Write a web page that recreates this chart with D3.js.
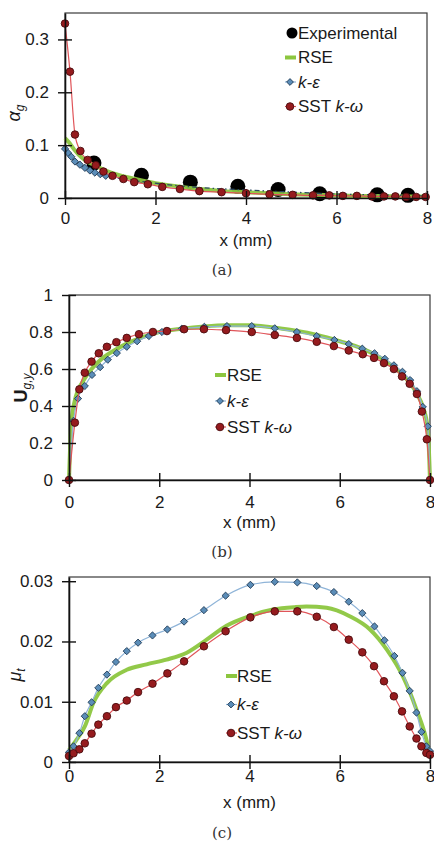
<!DOCTYPE html>
<html>
<head>
<meta charset="utf-8">
<script src="https://cdn.jsdelivr.net/npm/d3@7"></script>
<style>
  html, body { margin: 0; padding: 0; background: #fff; }
  svg { display: block; font-family: "Liberation Sans", Arial, sans-serif; }
</style>
</head>
<body>
<svg id="fig" width="434" height="841"></svg>
<script>
// ---------- shared axis values ----------
const xTickValues = [0, 2, 4, 6, 8];

// ---------- (a) gas volume fraction ----------
const expAX = [0.64, 1.69, 2.77, 3.82, 4.71, 5.63, 6.9, 7.58];
const expAY = [0.066, 0.043, 0.030, 0.022, 0.016, 0.008, 0.006, 0.005];

const rseAX = [0, 0.1, 0.2, 0.3, 0.45, 0.65, 0.9, 1.2, 1.6, 2.0, 2.5, 3.0, 3.5, 4.0, 4.5, 5.0, 5.5, 6.0, 6.5, 7.0, 7.5, 8.0];
const rseAY = [0.113, 0.104, 0.092, 0.082, 0.071, 0.062, 0.052, 0.043, 0.035, 0.028, 0.022, 0.017, 0.013, 0.011, 0.009, 0.007, 0.006, 0.005, 0.004, 0.004, 0.003, 0.003];

const keAX = [0, 0.07, 0.14, 0.22, 0.33, 0.44, 0.55, 0.66, 0.78, 0.9, 1.3, 1.8, 2.3, 2.8, 3.3, 3.8, 4.3, 4.8, 5.3, 5.8, 6.3, 6.8, 7.3, 7.8, 8.0];
const keAY = [0.093, 0.085, 0.078, 0.069, 0.063, 0.057, 0.052, 0.048, 0.045, 0.042, 0.036, 0.030, 0.025, 0.021, 0.018, 0.016, 0.014, 0.012, 0.010, 0.008, 0.007, 0.006, 0.005, 0.004, 0.004];

const sstAX = [0, 0.11, 0.22, 0.34, 0.5, 0.68, 0.85, 1.05, 1.29, 1.53, 1.83, 2.15, 2.54, 2.97, 3.46, 4.0, 4.52, 5.03, 5.48, 5.84, 6.14, 6.45, 6.78, 7.05, 7.3, 7.54, 7.76, 7.97];
const sstAY = [0.33, 0.239, 0.12, 0.089, 0.072, 0.062, 0.05, 0.042, 0.036, 0.030, 0.026, 0.021, 0.017, 0.013, 0.011, 0.009, 0.007, 0.006, 0.005, 0.005, 0.004, 0.004, 0.003, 0.003, 0.003, 0.002, 0.002, 0.002];
const yTicksA = [0, 0.1, 0.2, 0.3];

// ---------- (b) gas axial velocity ----------
const rseBX = [0, 0.05, 0.15, 0.3, 0.5, 0.75, 1.0, 1.3, 1.6, 2.0, 2.5, 3.0, 3.5, 4.0, 4.5, 5.0, 5.5, 6.0, 6.5, 7.0, 7.4, 7.7, 7.85, 7.95, 8.0];
const rseBY = [0, 0.3, 0.45, 0.53, 0.6, 0.66, 0.7, 0.74, 0.77, 0.8, 0.818, 0.83, 0.836, 0.836, 0.826, 0.808, 0.784, 0.75, 0.71, 0.645, 0.565, 0.47, 0.39, 0.28, 0];

const keBX = [0, 0.1, 0.2, 0.35, 0.51, 0.69, 0.86, 1.06, 1.28, 1.51, 1.77, 2.06, 2.5, 3.0, 3.5, 4.05, 4.56, 5.05, 5.49, 5.88, 6.2, 6.5, 6.77, 7.0, 7.2, 7.39, 7.56, 7.71, 7.84, 7.95, 8.0];
const keBY = [0, 0.32, 0.44, 0.508, 0.568, 0.61, 0.65, 0.686, 0.72, 0.75, 0.778, 0.80, 0.818, 0.828, 0.832, 0.832, 0.82, 0.80, 0.778, 0.757, 0.735, 0.71, 0.685, 0.655, 0.62, 0.585, 0.54, 0.48, 0.395, 0.29, 0];

const sstBX = [0, 0.13, 0.23, 0.35, 0.5, 0.66, 0.84, 1.05, 1.28, 1.55, 1.86, 2.17, 2.55, 2.99, 3.48, 4.05, 4.56, 5.05, 5.49, 5.87, 6.2, 6.51, 6.76, 6.98, 7.2, 7.38, 7.55, 7.71, 7.82, 7.93, 8.0];
const sstBY = [0, 0.31, 0.49, 0.58, 0.64, 0.685, 0.72, 0.745, 0.768, 0.788, 0.80, 0.805, 0.815, 0.815, 0.81, 0.80, 0.784, 0.768, 0.747, 0.724, 0.70, 0.68, 0.66, 0.632, 0.60, 0.56, 0.52, 0.465, 0.37, 0.22, 0];
const yTicksB = [0, 0.2, 0.4, 0.6, 0.8, 1];

// ---------- (c) turbulent viscosity ----------
const rseCX = [0, 0.15, 0.35, 0.54, 0.84, 1.28, 1.72, 2.16, 2.6, 3.05, 3.49, 4.0, 4.52, 5.0, 5.26, 5.71, 6.22, 6.67, 7.04, 7.4, 7.7, 7.92, 8.0];
const rseCY = [0.002, 0.0035, 0.0059, 0.0098, 0.0131, 0.0153, 0.0162, 0.017, 0.0181, 0.0203, 0.0226, 0.0242, 0.0253, 0.0257, 0.0258, 0.0256, 0.0242, 0.022, 0.0187, 0.0142, 0.0087, 0.0037, 0.001];

const keCX = [0, 0.1, 0.23, 0.35, 0.5, 0.65, 0.84, 1.04, 1.28, 1.53, 1.85, 2.18, 2.55, 2.99, 3.47, 4.02, 4.56, 5.06, 5.49, 5.87, 6.2, 6.5, 6.77, 6.99, 7.21, 7.39, 7.55, 7.7, 7.81, 7.92, 8.0];
const keCY = [0.0016, 0.0026, 0.0048, 0.0076, 0.0099, 0.0123, 0.0145, 0.0166, 0.0184, 0.0198, 0.021, 0.022, 0.0233, 0.0252, 0.0276, 0.0294, 0.0299, 0.0298, 0.0292, 0.0282, 0.0266, 0.0247, 0.0225, 0.0202, 0.0176, 0.0148, 0.0118, 0.0082, 0.005, 0.0026, 0.0018];

const sstCX = [0, 0.1, 0.23, 0.35, 0.5, 0.65, 0.84, 1.04, 1.28, 1.53, 1.85, 2.18, 2.55, 2.99, 3.47, 4.02, 4.56, 5.06, 5.49, 5.87, 6.2, 6.5, 6.76, 6.98, 7.2, 7.38, 7.55, 7.7, 7.81, 7.92, 8.0];
const sstCY = [0.001, 0.00145, 0.0021, 0.0031, 0.0047, 0.0062, 0.0076, 0.0091, 0.0102, 0.0116, 0.013, 0.0147, 0.0167, 0.0192, 0.0217, 0.024, 0.025, 0.025, 0.0241, 0.0224, 0.0203, 0.0182, 0.0159, 0.0134, 0.0109, 0.0084, 0.0059, 0.0039, 0.0026, 0.0015, 0.0012];
const yTicksC = [0, 0.01, 0.02, 0.03];

// ---------- styles ----------
const C = {
  rse: "#8cc63f",
  keFill: "#5b8db8", keStroke: "#1f3a55", keLine: "#8fb4d8",
  sstFill: "#951b1e", sstStroke: "#4a0b0d", sstLine: "#e0555a",
  exp: "#000000",
  frame: "#3a3a3a"
};
const FONT = 17;

const svg = d3.select("#fig");
const zip = (xs, ys) => xs.map((x, i) => ({ x, y: ys[i] }));
const diamondPath = r => `M0,${-r}L${r},0L0,${r}L${-r},0Z`;
const fmt = d => String(+d.toFixed(3));

function drawPanel(p) {
  const x = d3.scaleLinear().domain([0, 8]).range([p.left, p.right]);
  const y = d3.scaleLinear().domain([0, p.yMax]).range([p.bottom, p.top]);
  const g = svg.append("g");

  // plot-area frame
  g.append("rect")
    .attr("x", p.left).attr("y", p.top)
    .attr("width", p.right - p.left).attr("height", p.bottom - p.top)
    .attr("fill", "none").attr("stroke", C.frame).attr("stroke-width", 1.2);

  const line = d3.line().x(d => x(d.x)).y(d => y(d.y)).curve(d3.curveMonotoneX);

  p.series.forEach(s => {
    const pts = zip(s.xs, s.ys);
    if (s.kind === "exp") {
      g.append("g").selectAll("circle").data(pts).join("circle")
        .attr("cx", d => x(d.x)).attr("cy", d => y(d.y)).attr("r", 7.5)
        .attr("fill", C.exp);
    } else if (s.kind === "rse") {
      g.append("path").datum(pts).attr("d", line)
        .attr("fill", "none").attr("stroke", C.rse).attr("stroke-width", 4)
        .attr("stroke-linejoin", "round").attr("stroke-opacity", 0.95);
    } else if (s.kind === "ke") {
      g.append("path").datum(pts).attr("d", line)
        .attr("fill", "none").attr("stroke", s.dashed ? "#2c4a66" : C.keLine)
        .attr("stroke-width", s.dashed ? 1.3 : 1.2)
        .attr("stroke-dasharray", s.dashed ? "5,3,1.5,3" : null);
      const shown = s.markerMaxX == null ? pts : pts.filter(d => d.x <= s.markerMaxX);
      g.append("g").selectAll("path").data(shown).join("path")
        .attr("transform", d => `translate(${x(d.x)},${y(d.y)})`)
        .attr("d", diamondPath(3.6))
        .attr("fill", C.keFill).attr("stroke", C.keStroke).attr("stroke-width", 0.9);
    } else if (s.kind === "sst") {
      g.append("path").datum(pts).attr("d", line)
        .attr("fill", "none").attr("stroke", C.sstLine).attr("stroke-width", 1.2);
      g.append("g").selectAll("circle").data(pts).join("circle")
        .attr("cx", d => x(d.x)).attr("cy", d => y(d.y)).attr("r", 3.8)
        .attr("fill", C.sstFill).attr("stroke", C.sstStroke).attr("stroke-width", 0.9);
    }
  });

  // y axis with crossing ticks
  const ya = g.append("g").attr("transform", `translate(${p.left},0)`)
    .call(d3.axisLeft(y).tickValues(p.yTicks).tickFormat(fmt).tickSizeInner(7).tickSizeOuter(0).tickPadding(9));
  ya.select(".domain").attr("stroke", "#111").attr("stroke-width", 1.6);
  ya.selectAll(".tick line").attr("x1", -7).attr("x2", 7).attr("stroke", "#111").attr("stroke-width", 1.4);
  ya.selectAll(".tick text").attr("font-size", FONT).attr("fill", "#1a1a1a").attr("font-family", null);

  // x axis with crossing ticks
  const xa = g.append("g").attr("transform", `translate(0,${p.bottom})`)
    .call(d3.axisBottom(x).tickValues(xTickValues).tickFormat(fmt).tickSizeInner(7).tickSizeOuter(0).tickPadding(p.xPad));
  xa.select(".domain").attr("stroke", "#111").attr("stroke-width", 1.6);
  xa.selectAll(".tick line").attr("y1", -7).attr("y2", 7).attr("stroke", "#111").attr("stroke-width", 1.4);
  xa.selectAll(".tick text").attr("font-size", FONT).attr("fill", "#1a1a1a").attr("font-family", null);

  // x title and caption
  g.append("text").attr("x", (p.left + p.right) / 2 + 0).attr("y", p.bottom + p.titleDy)
    .attr("text-anchor", "middle").attr("font-size", FONT).attr("fill", "#1a1a1a").text("x (mm)");
  g.append("text").attr("x", 222).attr("y", p.bottom + p.capDy)
    .attr("text-anchor", "middle").attr("font-size", 15).attr("fill", "#333")
    .attr("font-family", "'DejaVu Serif', 'Liberation Serif', serif").text(p.caption);

  // y title
  const yt = g.append("text")
    .attr("transform", `translate(${p.yTitle[0]},${p.yTitle[1]}) rotate(-90)`)
    .attr("text-anchor", "middle").attr("font-size", 18).attr("fill", "#1a1a1a");
  p.yLabel(yt);

  // legend
  const lg = g.append("g");
  p.legend.rows.forEach((kind, i) => {
    const cy = p.legend.y0 + i * p.legend.dy;
    const mx = p.legend.mx;
    if (kind === "exp") {
      lg.append("circle").attr("cx", mx + 2).attr("cy", cy).attr("r", 5.5).attr("fill", C.exp);
    } else if (kind === "rse") {
      lg.append("line").attr("x1", mx - 5).attr("x2", mx + 6).attr("y1", cy).attr("y2", cy)
        .attr("stroke", C.rse).attr("stroke-width", 4);
    } else if (kind === "ke") {
      lg.append("line").attr("x1", mx - 5).attr("x2", mx + 6).attr("y1", cy).attr("y2", cy)
        .attr("stroke", C.keLine).attr("stroke-width", 1.2);
      lg.append("path").attr("transform", `translate(${mx},${cy})`).attr("d", diamondPath(3.4))
        .attr("fill", C.keFill).attr("stroke", C.keStroke).attr("stroke-width", 0.9);
    } else if (kind === "sst") {
      lg.append("line").attr("x1", mx - 5).attr("x2", mx + 6).attr("y1", cy).attr("y2", cy)
        .attr("stroke", C.sstLine).attr("stroke-width", 1.2);
      lg.append("circle").attr("cx", mx).attr("cy", cy).attr("r", 3.8)
        .attr("fill", C.sstFill).attr("stroke", C.sstStroke).attr("stroke-width", 0.9);
    }
    const t = lg.append("text").attr("x", p.legend.tx).attr("y", cy).attr("dy", "0.35em")
      .attr("font-size", FONT).attr("fill", "#1a1a1a");
    if (kind === "exp") t.text("Experimental");
    if (kind === "rse") t.text("RSE");
    if (kind === "ke") t.append("tspan").attr("font-style", "italic").text("k-ε");
    if (kind === "sst") {
      t.append("tspan").text("SST ");
      t.append("tspan").attr("font-style", "italic").text("k-ω");
    }
  });
}

drawPanel({
  left: 65, right: 427, top: 13, bottom: 198, yMax: 0.35, yTicks: yTicksA,
  xPad: 7, titleDy: 48, capDy: 77, caption: "(a)",
  yTitle: [20, 113],
  yLabel: t => {
    t.append("tspan").attr("font-style", "italic").text("α");
    t.append("tspan").attr("font-style", "italic").attr("font-size", 12).attr("dy", 4).text("g");
  },
  series: [
    { kind: "exp", xs: expAX, ys: expAY },
    { kind: "rse", xs: rseAX, ys: rseAY },
    { kind: "ke", xs: keAX, ys: keAY, dashed: true, markerMaxX: 0.95 },
    { kind: "sst", xs: sstAX, ys: sstAY }
  ],
  legend: { rows: ["exp", "rse", "ke", "sst"], mx: 290, tx: 298, y0: 33, dy: 24.5 }
});

drawPanel({
  left: 69, right: 430, top: 295, bottom: 480, yMax: 1, yTicks: yTicksB,
  xPad: 9, titleDy: 48, capDy: 77, caption: "(b)",
  yTitle: [27, 388],
  yLabel: t => {
    t.append("tspan").attr("font-weight", "bold").text("U");
    t.append("tspan").attr("font-style", "italic").attr("font-size", 12).attr("dy", 4).text("g,y");
  },
  series: [
    { kind: "rse", xs: rseBX, ys: rseBY },
    { kind: "ke", xs: keBX, ys: keBY },
    { kind: "sst", xs: sstBX, ys: sstBY }
  ],
  legend: { rows: ["rse", "ke", "sst"], mx: 220, tx: 227, y0: 375, dy: 26 }
});

drawPanel({
  left: 69, right: 430, top: 577, bottom: 762, yMax: 0.0307, yTicks: yTicksC,
  xPad: 1, titleDy: 46, capDy: 76, caption: "(c)",
  yTitle: [21, 675],
  yLabel: t => {
    t.append("tspan").attr("font-style", "italic").text("μ");
    t.append("tspan").attr("font-style", "italic").attr("font-size", 12).attr("dy", 4).text("t");
  },
  series: [
    { kind: "rse", xs: rseCX, ys: rseCY },
    { kind: "ke", xs: keCX, ys: keCY },
    { kind: "sst", xs: sstCX, ys: sstCY }
  ],
  legend: { rows: ["rse", "ke", "sst"], mx: 231, tx: 237, y0: 676, dy: 28.5 }
});
</script>
</body>
</html>
